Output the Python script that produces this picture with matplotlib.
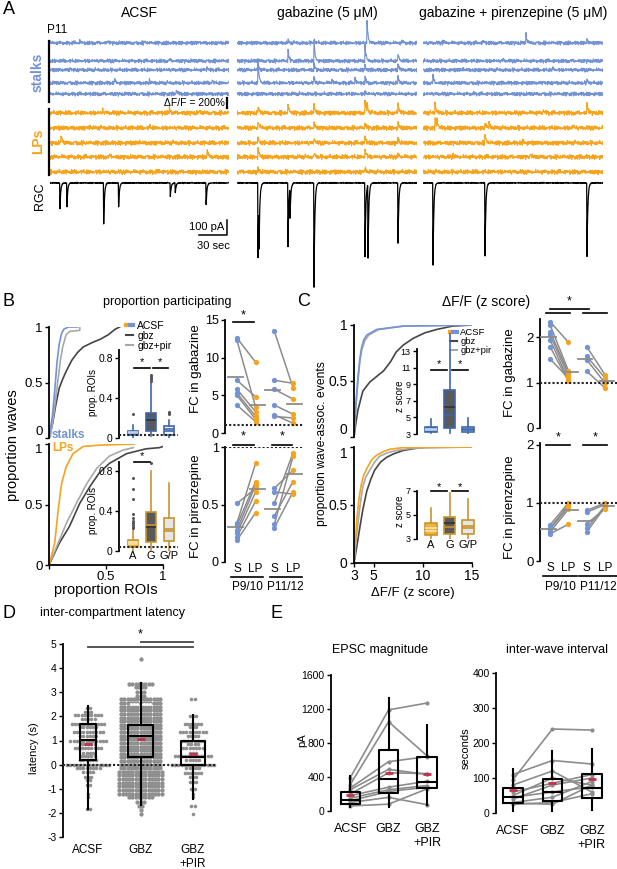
import numpy as np
import matplotlib
matplotlib.use("Agg")
import matplotlib.pyplot as plt
from matplotlib.lines import Line2D
from matplotlib.legend_handler import HandlerTuple

plt.rcParams['font.family'] = ['Liberation Sans', 'DejaVu Sans']
plt.rcParams['font.size'] = 8
plt.rcParams['axes.linewidth'] = 1.3
plt.rcParams['axes.unicode_minus'] = False

W, H = 617, 869

BLUE = '#7393d3'
BLUE_DARK = '#3d67ae'
ORANGE = '#f6a31e'
GOLD = '#c99330'
DARK = '#454545'
LIGHT = '#a8a8a8'
GRAY = '#8c8c8c'
RED = '#c4314b'

# ---------------- Panel A: example traces ----------------
TRACE_DUR = 180  # seconds shown per condition
CONDITIONS = ['ACSF', 'gabazine (5 μM)', 'gabazine + pirenzepine (5 μM)']
# calcium events, per condition, per ROI: (time s, dF/F %)
STALK_EVENTS = [
    [[(30, 40), (58, 60), (95, 40), (150, 40)], [(120, 30)], [(20, 40), (158, 60)],
     [(65, 80), (100, 60), (163, 60)], [(127, 100)]],
    [[(51, 60), (77, 80), (130, 460), (165, 40)], [(51, 240), (77, 400), (128, 320), (161, 160)],
     [(21, 160), (77, 140), (128, 100), (161, 140)],
     [(21, 480), (77, 120), (95, 80), (118, 100), (128, 120), (161, 120)], [(128, 60)]],
    [[(20, 40), (60, 40), (103, 180), (164, 80)], [(80, 30)], [(40, 40), (130, 40)],
     [(10, 140), (120, 40), (164, 80)], [(50, 30)]],
]
LP_EVENTS = [
    [[(53, 60), (120, 120), (150, 40)], [(40, 40), (100, 40)], [(11, 160), (90, 40)],
     [(60, 40), (158, 140)], [(110, 40)]],
    [[(21, 120), (51, 160), (77, 160), (128, 240), (130, 160), (161, 200)],
     [(21, 120), (77, 100), (128, 100), (161, 100)], [(21, 100), (77, 100), (128, 120), (161, 100)],
     [(21, 160), (77, 80), (128, 160), (161, 60)], [(21, 80), (128, 80)]],
    [[(12, 200), (120, 80), (164, 200)], [(12, 200), (14, 120), (62, 120), (66, 100), (150, 60)],
     [(62, 160), (100, 40)], [(30, 40), (107, 80)], [(70, 40)]],
]
# RGC EPSCs per condition: (time s, amplitude pA)
RGC_EVENTS = [
    [(10, 173), (17, 160), (54, 273), (69, 160), (121, 93), (126, 67), (157, 147)],
    [(21, 500), (22, 300), (51, 427), (53, 200), (77, 693), (128, 493), (131, 493), (161, 400)],
    [(10, 547), (62, 487), (164, 487)],
]
# baseline texture (hand written, arbitrary units)
NOISE_A = [0.3, -0.5, 0.8, -0.2, -0.9, 0.4, 0.1, -0.6, 0.9, -0.3, 0.5, -0.8, 0.2, 0.7, -0.4, -0.1,
           0.6, -0.7, 0.0, 0.9, -0.5, 0.3, -0.9, 0.4, 0.8, -0.2, -0.6, 0.1, 0.5, -0.4, 0.7, -0.8,
           0.2, -0.1, 0.6, -0.3, 1.0]
NOISE_B = [-0.4, 0.6, 0.1, -0.8, 0.9, -0.2, 0.3, -0.6, 0.7, 0.0, -0.9, 0.4, 0.2, -0.5, 0.8, -0.3,
           0.5, -0.7, 0.1, 0.6, -0.1, -0.6, 0.3]

# ---------------- Panel B ----------------
b_stalk_acsf_x = [0.0, 0.03, 0.05, 0.07, 0.09, 0.11, 0.13, 0.17, 0.25]
b_stalk_acsf_y = [0, 0.2, 0.42, 0.68, 0.85, 0.94, 0.98, 1.0, 1.0]
b_stalk_pir_x = [0.01, 0.04, 0.07, 0.10, 0.12, 0.15, 0.18, 0.27, 0.27]
b_stalk_pir_y = [0, 0.2, 0.45, 0.7, 0.82, 0.93, 0.96, 0.97, 1.0]
b_stalk_gbz_x = [0.0, 0.03, 0.06, 0.09, 0.12, 0.15, 0.2, 0.25, 0.3, 0.38, 0.45, 0.52, 0.58, 0.62]
b_stalk_gbz_y = [0, 0.12, 0.3, 0.45, 0.53, 0.6, 0.7, 0.77, 0.82, 0.86, 0.89, 0.93, 0.98, 1.0]
b_lp_acsf_x = [0.0, 0.05, 0.08, 0.11, 0.15, 0.21, 0.30, 0.44, 0.75]
b_lp_acsf_y = [0, 0.18, 0.45, 0.67, 0.81, 0.92, 0.98, 0.99, 1.0]
b_lp_pir_x = [0.0, 0.08, 0.15, 0.24, 0.33, 0.42, 0.53, 0.65, 0.74]
b_lp_pir_y = [0, 0.18, 0.34, 0.51, 0.67, 0.8, 0.9, 0.95, 0.97]
b_lp_gbz_x = [0.0, 0.09, 0.18, 0.27, 0.36, 0.44, 0.53, 0.68, 0.85, 0.97, 1.0]
b_lp_gbz_y = [0, 0.18, 0.32, 0.51, 0.65, 0.76, 0.84, 0.92, 0.96, 0.97, 0.98]

BOX_GROUPS = ['A', 'G', 'G/P']
b_stalk_q1 = [0.027, 0.067, 0.033]
b_stalk_q3 = [0.073, 0.25, 0.117]
b_stalk_med = [0.05, 0.18, 0.073]
b_stalk_mean = [0.06, 0.20, 0.09]
b_stalk_lo = [0.0, 0.017, 0.0]
b_stalk_hi = [0.127, 0.55, 0.18]
b_stalk_fliers = [[0.24], [0.57, 0.59, 0.60, 0.62, 0.63], [0.24, 0.25, 0.26]]
b_lp_q1 = [0.04, 0.093, 0.10]
b_lp_q3 = [0.107, 0.39, 0.327]
b_lp_med = [0.073, 0.24, 0.223]
b_lp_mean = [0.09, 0.26, 0.20]
b_lp_lo = [0.0, 0.0, 0.0]
b_lp_hi = [0.217, 0.80, 0.677]
b_lp_fliers = [[0.73, 0.62, 0.52, 0.37, 0.33, 0.30, 0.28, 0.26, 0.24, 0.23], [0.877], []]

# fold change, stalks (S) vs LPs, P9/10 and P11/12
b_fcg_p9_s = [12.6, 12.3, 7.0, 5.8, 5.3, 5.0, 3.7]
b_fcg_p9_lp = [9.4, 3.4, 4.8, 2.8, 2.2, 1.8, 1.5]
b_fcg_p11_s = [13.5, 7.0, 5.8, 3.7, 2.4, 2.2]
b_fcg_p11_lp = [6.0, 6.6, 4.5, 2.5, 1.3, 2.0]
b_fcp_p9_s = [0.51, 0.34, 0.32, 0.28, 0.25, 0.22, 0.19]
b_fcp_p9_lp = [0.64, 0.86, 0.70, 0.67, 0.61, 0.53, 0.43]
b_fcp_p11_s = [0.64, 0.61, 0.51, 0.40, 0.33, 0.30]
b_fcp_p11_lp = [0.80, 0.59, 0.95, 0.70, 0.92, 0.61]

# ---------------- Panel C ----------------
c_top_acsf_x = [3.0, 3.2, 3.4, 3.6, 3.75, 4.0, 4.3, 5.3, 8.0, 15]
c_top_acsf_y = [0, 0.3, 0.53, 0.7, 0.79, 0.87, 0.91, 0.96, 0.99, 1.0]
c_top_pir_x = [3.0, 3.2, 3.4, 3.6, 3.8, 4.1, 4.5, 5.5, 8.0, 15]
c_top_pir_y = [0, 0.28, 0.5, 0.68, 0.78, 0.86, 0.91, 0.96, 0.99, 1.0]
c_top_gbz_x = [3.0, 3.2, 3.4, 3.9, 4.6, 5.3, 6.0, 6.7, 7.3, 8.0, 9.0, 10.2, 11.4, 13, 15]
c_top_gbz_y = [0, 0.13, 0.24, 0.41, 0.49, 0.54, 0.59, 0.67, 0.76, 0.82, 0.88, 0.93, 0.96, 0.99, 1.0]
c_bot_acsf_x = [3.0, 3.15, 3.3, 3.5, 3.75, 4.0, 4.4, 4.8, 5.3, 6.0, 6.6, 8.0, 15]
c_bot_acsf_y = [0, 0.2, 0.39, 0.55, 0.68, 0.76, 0.83, 0.89, 0.93, 0.96, 0.98, 0.995, 1.0]
c_bot_pir_x = [3.0, 3.2, 3.4, 3.65, 3.9, 4.2, 4.6, 5.1, 5.6, 6.4, 7.3, 9.0, 15]
c_bot_pir_y = [0, 0.18, 0.34, 0.52, 0.66, 0.74, 0.8, 0.87, 0.92, 0.95, 0.97, 0.99, 1.0]
c_bot_gbz_x = [3.0, 3.3, 3.6, 3.9, 4.3, 4.7, 5.1, 5.7, 6.3, 7.0, 8.0, 9.0, 10.4, 15]
c_bot_gbz_y = [0, 0.15, 0.31, 0.46, 0.62, 0.72, 0.8, 0.87, 0.91, 0.94, 0.97, 0.985, 1.0, 1.0]

c_stalk_q1 = [3.2, 3.7, 3.2]
c_stalk_q3 = [3.84, 8.3, 3.9]
c_stalk_med = [3.5, 5.3, 3.6]
c_stalk_mean = [3.6, 6.3, 3.5]
c_stalk_lo = [3.1, 3.1, 3.1]
c_stalk_hi = [4.8, 15.1, 4.9]
c_lp_q1 = [3.35, 3.4, 3.4]
c_lp_q3 = [4.3, 4.8, 4.6]
c_lp_med = [3.9, 4.3, 4.1]
c_lp_mean = [3.7, 4.0, 3.9]
c_lp_lo = [3.0, 3.0, 3.0]
c_lp_hi = [5.6, 6.8, 6.3]

c_fcg_p9_s = [2.34, 2.27, 2.12, 2.05, 1.94, 1.79, 1.52]
c_fcg_p9_lp = [1.89, 1.26, 1.21, 1.14, 1.06, 1.03, 1.10]
c_fcg_p11_s = [1.79, 1.58, 1.50, 1.25]
c_fcg_p11_lp = [1.17, 1.10, 0.99, 0.88]
c_fcp_p9_s = [0.62, 0.57, 0.55, 0.50, 0.47]
c_fcp_p9_lp = [1.0, 0.96, 0.93, 0.89, 0.63]
c_fcp_p11_s = [0.87, 0.84, 0.64, 0.56, 0.50]
c_fcp_p11_lp = [1.0, 0.97, 0.90, 0.95, 0.93]

# ---------------- Panel D: latency swarm (level s, number of events) ----------------
D_GROUPS = ['ACSF', 'GBZ', 'GBZ\n+PIR']
d_acsf_levels = [2.35, 2.2, 2.05, 1.9, 1.7, 1.55, 1.35, 1.2, 1.0, 0.85, 0.7, 0.5, 0.35, 0.2, 0.0,
                 -0.15, -0.3, -0.5, -0.65, -0.85, -1.2, -1.35, -1.85]
d_acsf_counts = [2, 3, 9, 5, 11, 6, 10, 6, 12, 5, 9, 4, 5, 6, 14, 8, 4, 3, 2, 2, 1, 1, 2]
d_gbz_levels = [4.37, 3.35, 3.2, 3.0, 2.85, 2.7, 2.55, 2.4, 2.25, 2.1, 1.95, 1.8, 1.65, 1.5, 1.35,
                1.2, 1.05, 0.9, 0.75, 0.6, 0.45, 0.3, 0.15, 0.0, -0.15, -0.3, -0.45, -0.6, -0.75,
                -0.9, -1.05, -1.2, -1.35, -1.55, -1.7, -1.9, -2.05]
d_gbz_counts = [1, 8, 4, 3, 3, 13, 13, 13, 13, 13, 13, 13, 13, 13, 13, 13, 13, 13, 13, 13, 13, 13,
                13, 13, 13, 14, 14, 14, 14, 14, 14, 14, 8, 3, 2, 1, 1]
d_gp_levels = [2.7, 2.0, 1.7, 1.55, 1.35, 1.2, 1.0, 0.85, 0.7, 0.5, 0.35, 0.2, 0.0, -0.15, -0.35,
               -0.5, -0.7, -1.0, -1.2, -1.35, -1.7, -2.05]
d_gp_counts = [2, 3, 6, 3, 9, 4, 8, 4, 7, 3, 12, 5, 14, 5, 6, 3, 3, 2, 1, 1, 2, 1]
d_q1 = [0.18, 0.32, -0.03]
d_q3 = [1.7, 1.66, 1.0]
d_med = [1.03, 1.17, 0.32]
d_mean = [0.87, 1.06, 0.44]
d_lo = [-1.86, -1.66, -1.41]
d_hi = [2.41, 3.38, 2.07]

# ---------------- Panel E: paired cells ----------------
e_epsc_acsf = [390, 310, 270, 250, 200, 180, 150, 120, 100, 60]
e_epsc_gbz = [1190, 1050, 580, 490, 450, 280, 250, 230, 160, 80]
e_epsc_pir = [1270, 650, 640, 430, 440, 350, 300, 280, 75, 260]
e_epsc_q1 = [86, 212, 275]
e_epsc_q3 = [224, 714, 635]
e_epsc_med = [133, 380, 341]
e_epsc_mean = [184, 447, 439]
e_epsc_lo = [47, 47, 67]
e_epsc_hi = [408, 1333, 1016]
e_iwi_acsf = [95, 110, 80, 50, 60, 40, 45, 30, 25, 28]
e_iwi_gbz = [240, 150, 120, 100, 85, 80, 60, 45, 30, 25]
e_iwi_pir = [237, 140, 60, 80, 110, 100, 75, 90, 55, 80]
e_iwi_q1 = [29, 34, 43]
e_iwi_q3 = [72, 96, 112]
e_iwi_med = [45, 60, 72]
e_iwi_mean = [65, 87, 98]
e_iwi_lo = [5, 5, 10]
e_iwi_hi = [127, 178, 183]


fig = plt.figure(figsize=(W / 100, H / 100), dpi=100)


def px_axes(x0, y0, x1, y1):
    ax = fig.add_axes([x0 / W, 1 - y1 / H, (x1 - x0) / W, (y1 - y0) / H])
    ax.patch.set_alpha(0)
    return ax


def label(x, y, s, **kw):
    kw.setdefault('ha', 'center')
    kw.setdefault('va', 'center')
    fig.text(x / W, 1 - y / H, s, **kw)


def style(ax, bottom=False, fs=8):
    for s in ['top', 'right']:
        ax.spines[s].set_visible(False)
    ax.spines['bottom'].set_visible(bottom)
    ax.tick_params(length=3, width=1, labelsize=fs, pad=1.5)
    if not bottom:
        ax.tick_params(axis='x', bottom=False, labelbottom=False)


def dotted(ax, y):
    ax.axhline(y, color='#222222', lw=1.5, ls=(0, (1, 1)), zorder=4)


def sig(ax, x0, x1, y, ystar, fs=9, color='k'):
    ax.plot([x0, x1], [y, y], color=color, lw=1.2, clip_on=False)
    ax.text((x0 + x1) / 2, ystar, '*', ha='center', va='center', fontsize=fs, clip_on=False)


def stacked_cdf_ticks(top, bottom):
    # keep the touching "0" (upper plot) and "1" (lower plot) labels apart
    for lab in top.get_yticklabels():
        if lab.get_text() == '0':
            lab.set_va('bottom')
    for lab in bottom.get_yticklabels():
        if lab.get_text() == '1':
            lab.set_va('top')


def draw_boxes(ax, q1, q3, med, mean, lo, hi, fliers, faces, edge, med_colors, mean_colors,
               width=0.6, lw=1.2):
    stats = [dict(q1=a, q3=b, med=m, mean=mu, whislo=l, whishi=h, fliers=f)
             for a, b, m, mu, l, h, f in zip(q1, q3, med, mean, lo, hi, fliers)]
    bp = ax.bxp(stats, positions=[1, 2, 3], widths=width, patch_artist=True, showmeans=True,
                meanline=True, showcaps=False, manage_ticks=False,
                boxprops=dict(linewidth=lw, edgecolor=edge),
                whiskerprops=dict(color=edge, linewidth=lw),
                flierprops=dict(marker='o', markersize=2.2, markerfacecolor='#555555',
                                markeredgecolor='none'),
                medianprops=dict(linewidth=lw), meanprops=dict(linestyle='-', linewidth=lw))
    for p, fc in zip(bp['boxes'], faces):
        p.set_facecolor(fc)
    for ln, c in zip(bp['medians'], med_colors):
        ln.set_color(c)
    for ln, c in zip(bp['means'], mean_colors):
        ln.set_color(c)


def fc_panel(ax, s9, lp9, s11, lp11):
    for pos, s, lp in [(1, s9, lp9), (3, s11, lp11)]:
        for a, b in zip(s, lp):
            ax.plot([pos, pos + 1], [a, b], color=GRAY, lw=1.1, zorder=1)
        ax.plot([pos] * len(s), s, 'o', color=BLUE, ms=3.8, mec='none', zorder=2)
        ax.plot([pos + 1] * len(lp), lp, 'o', color=ORANGE, ms=3.8, mec='none', zorder=2)
        ax.plot([pos - 0.5, pos + 0.3], [np.mean(s)] * 2, color=GRAY, lw=1.3, zorder=3)
        ax.plot([pos + 0.7, pos + 1.5], [np.mean(lp)] * 2, color=GRAY, lw=1.3, zorder=3)
    dotted(ax, 1)


def fc_xlabels(ax, spans, centers):
    ax.set_xticks([1, 2, 3, 4], ['S', 'LP', 'S', 'LP'], fontsize=8.5)
    ax.tick_params(axis='x', bottom=True, labelbottom=True, length=0, pad=1)
    tr = ax.get_xaxis_transform()
    for (a, b), c, name in zip(spans, centers, ['P9/10', 'P11/12']):
        ax.plot([a, b], [-0.13, -0.13], color='k', lw=1.2, transform=tr, clip_on=False)
        ax.text(c, -0.22, name, ha='center', va='center', fontsize=8.5, transform=tr)


# ================= Panel A =================
A_COLS = [(50, 229), (237, 417), (423, 603)]
STALK_OFFSETS = [2700, 2340, 2160, 1900, 1680]
LP_OFFSETS = [1300, 1000, 700, 420, 120]
t = np.linspace(0, TRACE_DUR, 3 * TRACE_DUR + 1)
na, nb = np.asarray(NOISE_A), np.asarray(NOISE_B)


def texture(seed):
    i = np.arange(t.size)
    return 0.5 * (na[(i + 5 * seed) % na.size] + nb[(2 * i + 3 * seed) % nb.size])


def events_trace(events, tau):
    y = np.zeros_like(t)
    for t0, amp in events:
        y = y + amp * np.where(t >= t0, np.exp(-np.clip(t - t0, 0, None) / tau), 0)
    return y


for c, (x0, x1) in enumerate(A_COLS):
    ax = px_axes(x0, 10, x1, 178)
    ax.set_xlim(0, TRACE_DUR)
    ax.set_ylim(0, 3360)
    ax.axis('off')
    for k in range(5):
        ax.plot(t, STALK_OFFSETS[k] + 50 * texture(10 * c + k) + events_trace(STALK_EVENTS[c][k], 1.0),
                color=BLUE, lw=0.8)
        ax.plot(t, LP_OFFSETS[k] + 60 * texture(10 * c + k + 5) + events_trace(LP_EVENTS[c][k], 1.2),
                color=ORANGE, lw=0.8)
    label((x0 + x1) / 2, 13, CONDITIONS[c], fontsize=10)
    rax = px_axes(x0, 178, x1, 292)
    rax.set_xlim(0, TRACE_DUR)
    rax.set_ylim(-727, 33)
    rax.axis('off')
    rax.plot(t, 5 * texture(7 * c + 3) - events_trace(RGC_EVENTS[c], 0.8), color='k', lw=0.9)
    if c == 0:
        ax.plot([-1.2, -1.2], [2740, 1520], color='k', lw=1.6, clip_on=False)
        ax.plot([-1.2, -1.2], [1380, 60], color='k', lw=1.6, clip_on=False)
        ax.plot([178, 178], [1400, 1600], color='k', lw=1.6, clip_on=False)
        ax.text(176, 1500, 'ΔF/F = 200%', ha='right', va='center', fontsize=7.5)
        rax.plot([150, 178, 178], [-347, -347, -247], color='k', lw=1.1, clip_on=False)
        rax.text(175, -297, '100 pA', ha='right', va='center', fontsize=8)
        rax.text(164, -420, '30 sec', ha='center', va='center', fontsize=8)

label(3, 10, 'A', ha='left', fontsize=13)
label(47, 30, 'P11', ha='left', fontsize=8.5)
label(38, 72, 'stalks', rotation=90, color=BLUE, fontsize=10, fontweight='bold')
label(38, 141, 'LPs', rotation=90, color=ORANGE, fontsize=10, fontweight='bold')
label(40, 196, 'RGC', rotation=90, fontsize=9)

# ================= Panel B =================
label(2, 302, 'B', ha='left', fontsize=13)
label(167, 302, 'proportion participating', fontsize=9)

b_top = px_axes(49, 327, 163, 438)
b_top.plot(b_stalk_gbz_x, b_stalk_gbz_y, color=DARK, lw=1.2)
b_top.plot(b_stalk_pir_x, b_stalk_pir_y, color=LIGHT, lw=1.2)
b_top.plot(b_stalk_acsf_x, b_stalk_acsf_y, color=BLUE, lw=1.2)
b_bot = px_axes(49, 444, 163, 565)
b_bot.plot(b_lp_gbz_x, b_lp_gbz_y, color=DARK, lw=1.2)
b_bot.plot(b_lp_pir_x, b_lp_pir_y, color=LIGHT, lw=1.2)
b_bot.plot(b_lp_acsf_x, b_lp_acsf_y, color=ORANGE, lw=1.2)
for ax, bottom in [(b_top, False), (b_bot, True)]:
    ax.set_xlim(0, 1)
    ax.set_ylim(0, 1)
    style(ax, bottom, fs=9.5)
    ax.set_yticks([0, 0.5, 1], ['0', '0.5', '1'])
b_bot.set_xticks([0, 0.5, 1], ['', '0.5', '1'])
stacked_cdf_ticks(b_top, b_bot)
label(52, 435, 'stalks', ha='left', color=BLUE, fontsize=8.5, fontweight='bold')
label(52, 448, 'LPs', ha='left', color=ORANGE, fontsize=8.5, fontweight='bold')
label(13, 445, 'proportion waves', rotation=90, fontsize=10.5)
label(106, 590, 'proportion ROIs', fontsize=10.5)

leg_handles = [(Line2D([], [], color=ORANGE, lw=3), Line2D([], [], color=BLUE, lw=3)),
               Line2D([], [], color=DARK, lw=1.5), Line2D([], [], color=LIGHT, lw=1.5)]
b_top.legend(leg_handles, ['ACSF', 'gbz', 'gbz+pir'],
             handler_map={tuple: HandlerTuple(ndivide=None, pad=0)},
             loc='upper left', bbox_to_anchor=(126 / W, 1 - 321 / H), bbox_transform=fig.transFigure,
             frameon=False, fontsize=7.5, handlelength=0.7, handletextpad=0.4, labelspacing=0,
             borderpad=0, borderaxespad=0)

bi_top = px_axes(119, 350, 178, 438)
draw_boxes(bi_top, b_stalk_q1, b_stalk_q3, b_stalk_med, b_stalk_mean, b_stalk_lo, b_stalk_hi,
           b_stalk_fliers, [BLUE_DARK, '#5a5a5a', '#f2f2f2'], BLUE_DARK,
           ['#c5d4ee', '#333333', BLUE_DARK], ['#c5d4ee', BLUE_DARK, BLUE_DARK])
dotted(bi_top, 0.027)
bi_top.set_ylim(0, 0.88)
sig(bi_top, 1.05, 1.95, 0.7, 0.76, fs=8)
sig(bi_top, 2.1, 2.95, 0.7, 0.76, fs=8)

bi_bot = px_axes(119, 462, 178, 551)
draw_boxes(bi_bot, b_lp_q1, b_lp_q3, b_lp_med, b_lp_mean, b_lp_lo, b_lp_hi, b_lp_fliers,
           ['#f2b33d', '#5a5a5a', '#e6e6e6'], GOLD, ['#fde6b0', '#333333', GOLD],
           ['#fde6b0', GOLD, GOLD])
dotted(bi_bot, 0.04)
bi_bot.set_ylim(0, 0.89)
sig(bi_bot, 1.05, 1.95, 0.89, 0.95, fs=8)
for ax in (bi_top, bi_bot):
    ax.set_xlim(0.22, 3.5)
    style(ax, False, fs=7.5)
    ax.set_yticks([0, 0.4, 0.8], ['0', '0.4', '0.8'])
bi_bot.set_xticks([1, 2, 3], BOX_GROUPS)
bi_bot.tick_params(axis='x', bottom=True, labelbottom=True, length=0, labelsize=8, pad=0)
label(93, 393, 'prop. ROIs', rotation=90, fontsize=7)
label(93, 511, 'prop. ROIs', rotation=90, fontsize=7)

bf_top = px_axes(225, 320, 303, 433)
fc_panel(bf_top, b_fcg_p9_s, b_fcg_p9_lp, b_fcg_p11_s, b_fcg_p11_lp)
bf_top.set_ylim(0, 15)
bf_top.set_yticks([0, 5, 10, 15])
sig(bf_top, 0.8, 1.9, 14.7, 15.6)
bf_bot = px_axes(225, 447, 303, 562)
fc_panel(bf_bot, b_fcp_p9_s, b_fcp_p9_lp, b_fcp_p11_s, b_fcp_p11_lp)
bf_bot.set_ylim(0, 1)
bf_bot.set_yticks([0, 0.5, 1], ['0', '0.5', '1'])
sig(bf_bot, 0.8, 1.9, 1.02, 1.09)
sig(bf_bot, 2.85, 3.95, 1.02, 1.09)
for ax in (bf_top, bf_bot):
    ax.set_xlim(0.36, 4.53)
    style(ax, False, fs=9)
fc_xlabels(bf_bot, [(0.7, 2.4), (2.75, 4.5)], [1.55, 3.6])
label(196, 369, 'FC in gabazine', rotation=90, fontsize=9.5)
label(196, 506, 'FC in pirenzepine', rotation=90, fontsize=9.5)

# ================= Panel C =================
label(297, 302, 'C', ha='left', fontsize=13)
label(486, 302, 'ΔF/F (z score)', fontsize=10)

c_top = px_axes(354, 325, 472, 437)
c_top.plot(c_top_gbz_x, c_top_gbz_y, color=DARK, lw=1.2)
c_top.plot(c_top_pir_x, c_top_pir_y, color=LIGHT, lw=1.2)
c_top.plot(c_top_acsf_x, c_top_acsf_y, color=BLUE, lw=1.2)
c_bot = px_axes(354, 447, 472, 563)
c_bot.plot(c_bot_gbz_x, c_bot_gbz_y, color=DARK, lw=1.2)
c_bot.plot(c_bot_pir_x, c_bot_pir_y, color=LIGHT, lw=1.2)
c_bot.plot(c_bot_acsf_x, c_bot_acsf_y, color=ORANGE, lw=1.2)
for ax, bottom in [(c_top, False), (c_bot, True)]:
    ax.set_xlim(3, 15)
    ax.set_ylim(0, 1)
    style(ax, bottom, fs=10)
    ax.set_yticks([0, 0.5, 1], ['0', '0.5', '1'])
c_bot.set_xticks([3, 5, 10, 15])
stacked_cdf_ticks(c_top, c_bot)
label(322, 444, 'proportion wave-assoc. events', rotation=90, fontsize=8.7)
label(413, 593, 'ΔF/F (z score)', fontsize=9.5)
c_top.legend(leg_handles, ['ACSF', 'gbz', 'gbz+pir'],
             handler_map={tuple: HandlerTuple(ndivide=None, pad=0)},
             loc='upper left', bbox_to_anchor=(450 / W, 1 - 328 / H), bbox_transform=fig.transFigure,
             frameon=False, fontsize=6.8, handlelength=0.7, handletextpad=0.4, labelspacing=0,
             borderpad=0, borderaxespad=0)

ci_top = px_axes(417, 333, 480, 434)
draw_boxes(ci_top, c_stalk_q1, c_stalk_q3, c_stalk_med, c_stalk_mean, c_stalk_lo, c_stalk_hi,
           [[], [], []], [BLUE_DARK, '#5a5a5a', '#f2f2f2'], BLUE_DARK,
           ['#c5d4ee', BLUE_DARK, BLUE_DARK], ['#c5d4ee', '#333333', BLUE_DARK])
ci_top.set_ylim(3, 15.2)
ci_top.set_yticks([3, 5, 7, 9, 11, 13])
ci_top.spines['left'].set_bounds(3, 13.3)
sig(ci_top, 1.0, 1.85, 10.7, 11.5, fs=8)
sig(ci_top, 2.15, 3.0, 10.7, 11.5, fs=8)
ci_bot = px_axes(417, 486, 480, 539)
draw_boxes(ci_bot, c_lp_q1, c_lp_q3, c_lp_med, c_lp_mean, c_lp_lo, c_lp_hi, [[], [], []],
           ['#f2b33d', '#5a5a5a', '#e6e6e6'], GOLD, ['#fde6b0', '#333333', GOLD],
           ['#fde6b0', GOLD, GOLD])
ci_bot.set_ylim(3, 7.4)
ci_bot.set_yticks([3, 5, 7])
ci_bot.spines['left'].set_bounds(3, 7)
sig(ci_bot, 1.0, 1.85, 7.0, 7.35, fs=8)
sig(ci_bot, 2.15, 3.0, 7.0, 7.35, fs=8)
for ax in (ci_top, ci_bot):
    ax.set_xlim(0.24, 3.65)
    style(ax, False, fs=6.5)
ci_bot.set_xticks([1, 2, 3], BOX_GROUPS)
ci_bot.tick_params(axis='x', bottom=True, labelbottom=True, length=0, labelsize=8, pad=1)
label(400, 396, 'z score', rotation=90, fontsize=7)
label(400, 511, 'z score', rotation=90, fontsize=7)

cf_top = px_axes(540, 319, 617, 428)
fc_panel(cf_top, c_fcg_p9_s, c_fcg_p9_lp, c_fcg_p11_s, c_fcg_p11_lp)
cf_top.set_ylim(0, 2.4)
cf_top.plot([0.8, 2.1], [2.53, 2.53], color='k', lw=1.2, clip_on=False)
cf_top.plot([2.8, 4.1], [2.53, 2.53], color='k', lw=1.2, clip_on=False)
sig(cf_top, 1.0, 3.1, 2.62, 2.78)
cf_bot = px_axes(540, 443, 617, 561)
fc_panel(cf_bot, c_fcp_p9_s, c_fcp_p9_lp, c_fcp_p11_s, c_fcp_p11_lp)
cf_bot.set_ylim(0, 2.03)
sig(cf_bot, 0.8, 2.1, 2.0, 2.13)
sig(cf_bot, 2.8, 4.1, 2.0, 2.13)
for ax in (cf_top, cf_bot):
    ax.set_xlim(0.45, 4.65)
    style(ax, False, fs=9.5)
    ax.set_yticks([0, 1, 2])
fc_xlabels(cf_bot, [(0.6, 2.45), (2.6, 4.65)], [1.55, 3.65])
label(510, 373, 'FC in gabazine', rotation=90, fontsize=9.5)
label(510, 507, 'FC in pirenzepine', rotation=90, fontsize=9.5)

# ================= Panel D =================
label(2, 613, 'D', ha='left', fontsize=13)
label(112, 613, 'inter-compartment latency', fontsize=9)
d_ax = px_axes(63, 644, 217, 837)


def swarm(ax, pos, levels, counts, color='#8f8f8f', dx=0.062, ms=2.6):
    for lv, n in zip(levels, counts):
        xs = pos + (np.arange(n) - (n - 1) / 2) * dx
        ax.plot(xs, np.full(n, lv), 'o', color=color, ms=ms, mec='none', zorder=1)


swarm(d_ax, 1, d_acsf_levels, d_acsf_counts)
swarm(d_ax, 2, d_gbz_levels, d_gbz_counts, ms=3.1)
swarm(d_ax, 2, [2.5], [7], color='white', ms=2.2)
swarm(d_ax, 3, d_gp_levels, d_gp_counts)
dotted(d_ax, 0)
d_stats = [dict(q1=a, q3=b, med=m, mean=mu, whislo=l, whishi=h, fliers=[])
           for a, b, m, mu, l, h in zip(d_q1, d_q3, d_med, d_mean, d_lo, d_hi)]
d_ax.bxp(d_stats, positions=[1, 2, 3], widths=[0.3, 0.48, 0.46], showmeans=True, showcaps=False,
         manage_ticks=False, boxprops=dict(color='k', linewidth=1.5),
         whiskerprops=dict(color='k', linewidth=1.5), medianprops=dict(color='k', linewidth=1.5),
         meanprops=dict(marker='_', markersize=6, markeredgewidth=2, markeredgecolor=RED),
         zorder=5)
d_ax.set_xlim(0.52, 3.46)
d_ax.set_ylim(-3, 5)
style(d_ax, False, fs=7.5)
d_ax.set_yticks(range(-3, 6))
d_ax.set_xticks([1, 2, 3], D_GROUPS)
d_ax.tick_params(axis='x', bottom=True, labelbottom=True, length=0, labelsize=8.5, pad=5)
d_ax.plot([1, 3], [4.88, 4.88], color=DARK, lw=1.3, clip_on=False)
d_ax.plot([2, 3], [5.08, 5.08], color=DARK, lw=1.3, clip_on=False)
d_ax.text(2, 5.38, '*', ha='center', va='center', fontsize=9)
label(34, 748, 'latency (s)', rotation=90, fontsize=8)

# ================= Panel E =================
label(270, 613, 'E', ha='left', fontsize=13)


def paired_panel(ax, acsf, gbz, pir, q1, q3, med, mean, lo, hi):
    for a, b, c in zip(acsf, gbz, pir):
        ax.plot([1, 2, 3], [a, b, c], color=GRAY, lw=1.2, marker='o', ms=3, mec='none', zorder=1)
    stats = [dict(q1=a, q3=b, med=m, mean=mu, whislo=l, whishi=h, fliers=[])
             for a, b, m, mu, l, h in zip(q1, q3, med, mean, lo, hi)]
    ax.bxp(stats, positions=[1, 2, 3], widths=0.5, showmeans=True, showcaps=False,
           manage_ticks=False, boxprops=dict(color='k', linewidth=1.5),
           whiskerprops=dict(color='k', linewidth=1.5), medianprops=dict(color='k', linewidth=1.5),
           meanprops=dict(marker='_', markersize=6, markeredgewidth=2, markeredgecolor=RED),
           zorder=3)
    style(ax, False, fs=7.5)
    ax.set_xticks([1, 2, 3], D_GROUPS)
    ax.tick_params(axis='x', bottom=True, labelbottom=True, length=0, labelsize=9, pad=9)


e1 = px_axes(331, 675, 445, 811)
paired_panel(e1, e_epsc_acsf, e_epsc_gbz, e_epsc_pir, e_epsc_q1, e_epsc_q3, e_epsc_med,
             e_epsc_mean, e_epsc_lo, e_epsc_hi)
e1.set_xlim(0.5, 3.47)
e1.set_ylim(0, 1600)
e1.set_yticks([0, 400, 800, 1200, 1600])
label(380, 650, 'EPSC magnitude', fontsize=9)
label(302, 740, 'pA', rotation=90, fontsize=8)

e2 = px_axes(496, 673, 610, 813)
paired_panel(e2, e_iwi_acsf, e_iwi_gbz, e_iwi_pir, e_iwi_q1, e_iwi_q3, e_iwi_med,
             e_iwi_mean, e_iwi_lo, e_iwi_hi)
e2.set_xlim(0.57, 3.46)
e2.set_ylim(0, 400)
e2.set_yticks([0, 100, 200, 300, 400])
label(557, 650, 'inter-wave interval', fontsize=9)
label(466, 748, 'seconds', rotation=90, fontsize=8)

fig.savefig('out.png', dpi=100)
